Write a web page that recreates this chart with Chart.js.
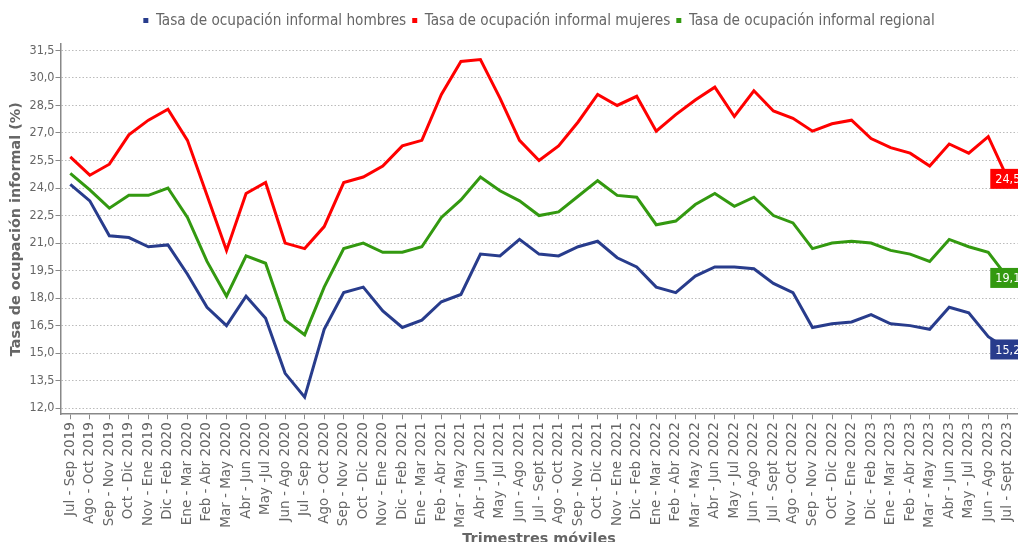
<!DOCTYPE html>
<html>
<head>
<meta charset="utf-8">
<script src="https://cdn.jsdelivr.net/npm/chart.js@4.4.1/dist/chart.umd.min.js"></script>
<style>
    html, body { margin: 0; padding: 0; background: #fff; overflow: hidden; }
    #wrap { width: 1027px; height: 550px; }
</style>
</head>
<body>
<div id="wrap"><canvas id="chartMain"></canvas></div>
<script>
const periods = [
    'Jul - Sep 2019', 'Ago - Oct 2019', 'Sep - Nov 2019', 'Oct - Dic 2019', 'Nov - Ene 2019',
    'Dic - Feb 2020', 'Ene - Mar 2020', 'Feb - Abr 2020', 'Mar - May 2020', 'Abr - Jun 2020',
    'May -Jul 2020', 'Jun - Ago 2020', 'Jul - Sep 2020', 'Ago - Oct 2020', 'Sep - Nov 2020',
    'Oct - Dic 2020', 'Nov - Ene 2020', 'Dic - Feb 2021', 'Ene - Mar 2021', 'Feb - Abr 2021',
    'Mar - May 2021', 'Abr - Jun 2021', 'May - Jul 2021', 'Jun - Ago 2021', 'Jul - Sept 2021',
    'Ago - Oct 2021', 'Sep - Nov 2021', 'Oct - Dic 2021', 'Nov - Ene 2021', 'Dic - Feb 2022',
    'Ene - Mar 2022', 'Feb - Abr 2022', 'Mar - May 2022', 'Abr - Jun 2022', 'May - Jul 2022',
    'Jun - Ago 2022', 'Jul - Sept 2022', 'Ago - Oct 2022', 'Sep - Nov 2022', 'Oct - Dic 2022',
    'Nov - Ene 2022', 'Dic - Feb 2023', 'Ene - Mar 2023', 'Feb - Abr 2023', 'Mar - May 2023',
    'Abr - Jun 2023', 'May - Jul 2023', 'Jun - Ago 2023', 'Jul - Sept 2023'
];

const hombres = [
    24.2, 23.3, 21.4, 21.3, 20.8, 20.9, 19.3, 17.5, 16.5, 18.1,
    16.9, 13.9, 12.6, 16.3, 18.3, 18.6, 17.3, 16.4, 16.8, 17.8,
    18.2, 20.4, 20.3, 21.2, 20.4, 20.3, 20.8, 21.1, 20.2, 19.7,
    18.6, 18.3, 19.2, 19.7, 19.7, 19.6, 18.8, 18.3, 16.4, 16.6,
    16.7, 17.1, 16.6, 16.5, 16.3, 17.5, 17.2, 15.9, 15.2
];

const mujeres = [
    25.7, 24.7, 25.3, 26.9, 27.7, 28.3, 26.6, 23.6, 20.6, 23.7,
    24.3, 21.0, 20.7, 21.9, 24.3, 24.6, 25.2, 26.3, 26.6, 29.1,
    30.9, 31.0, 28.9, 26.6, 25.5, 26.3, 27.6, 29.1, 28.5, 29.0,
    27.1, 28.0, 28.8, 29.5, 27.9, 29.3, 28.2, 27.8, 27.1, 27.5,
    27.7, 26.7, 26.2, 25.9, 25.2, 26.4, 25.9, 26.8, 24.5
];

const regional = [
    24.8, 23.9, 22.9, 23.6, 23.6, 24.0, 22.4, 20.0, 18.1, 20.3,
    19.9, 16.8, 16.0, 18.6, 20.7, 21.0, 20.5, 20.5, 20.8, 22.4,
    23.35, 24.6, 23.85, 23.3, 22.5, 22.7, 23.55, 24.4, 23.6, 23.5,
    22.0, 22.2, 23.1, 23.7, 23.0, 23.5, 22.5, 22.1, 20.7, 21.0,
    21.1, 21.0, 20.6, 20.4, 20.0, 21.2, 20.8, 20.5, 19.1
];

const yTicks = [12.0, 13.5, 15.0, 16.5, 18.0, 19.5, 21.0, 22.5, 24.0, 25.5, 27.0, 28.5, 30.0, 31.5];

const fmt = v => v.toFixed(1).replace('.', ',');
const condensed = '"DejaVu Sans Condensed", "DejaVu Sans", sans-serif';
const dejavu = '"DejaVu Sans", sans-serif';

// etiqueta con el ultimo valor de cada serie
const endLabels = {
    id: 'endLabels',
    afterDatasetsDraw(chart) {
        const ctx = chart.ctx;
        chart.data.datasets.forEach((ds, i) => {
            const meta = chart.getDatasetMeta(i);
            const pt = meta.data[meta.data.length - 1];
            const txt = fmt(ds.data[ds.data.length - 1]);
            ctx.save();
            ctx.font = '12.5px ' + condensed;
            const w = ctx.measureText(txt).width + 10;
            ctx.fillStyle = ds.borderColor;
            ctx.fillRect(pt.x - w / 2, pt.y - 10, w, 20);
            ctx.fillStyle = '#fff';
            ctx.textAlign = 'center';
            ctx.textBaseline = 'middle';
            ctx.fillText(txt, pt.x, pt.y + 1);
            ctx.restore();
        });
    }
};

// leyenda centrada sobre el area del grafico y con mas margen abajo
const legendSpace = {
    id: 'legendSpace',
    beforeInit(chart) {
        const fit = chart.legend.fit;
        chart.legend.fit = function () {
            fit.bind(chart.legend)();
            this.height += 6;
        };
    },
    afterLayout(chart) {
        chart.legend.left = chart.chartArea.left;
        chart.legend.right = chart.chartArea.right;
    }
};

new Chart(document.getElementById('chartMain'), {
    type: 'line',
    data: {
        labels: periods,
        datasets: [
            { label: 'Tasa de ocupación informal hombres', data: hombres, borderColor: '#283c8c', backgroundColor: '#283c8c' },
            { label: 'Tasa de ocupación informal mujeres', data: mujeres, borderColor: '#ff0000', backgroundColor: '#ff0000' },
            { label: 'Tasa de ocupación informal regional', data: regional, borderColor: '#339910', backgroundColor: '#339910' }
        ]
    },
    options: {
        responsive: true, maintainAspectRatio: false, animation: false,
        layout: { padding: { top: 7, left: 3.6, right: 0, bottom: 0 } },
        elements: {
            line: { borderWidth: 3, tension: 0 },
            point: { radius: 0 }
        },
        plugins: {
            legend: {
                position: 'top', align: 'center',
                labels: {
                    boxWidth: 5, boxHeight: 5, padding: 6,
                    color: '#666', font: { size: 15.2, family: condensed },
                    generateLabels: chart => Chart.defaults.plugins.legend.labels.generateLabels(chart)
                        .map(item => ({ ...item, lineWidth: 0 }))
                }
            },
            tooltip: { enabled: false }
        },
        scales: {
            x: {
                offset: true,
                grid: { drawOnChartArea: false, tickLength: 5, tickColor: '#888' },
                border: { color: '#888', width: 1.5 },
                ticks: {
                    autoSkip: false, maxRotation: 90, minRotation: 90, padding: 3,
                    color: '#666', font: { size: 13.5, family: dejavu }
                },
                title: {
                    display: true, text: 'Trimestres móviles', color: '#666',
                    padding: { top: 0, bottom: 2 },
                    font: { size: 14.4, weight: 'bold', family: dejavu }
                }
            },
            y: {
                min: 11.67, max: 31.84,
                afterBuildTicks: axis => { axis.ticks = yTicks.map(v => ({ value: v })); },
                grid: { color: '#bbb', tickColor: '#888', tickLength: 5 },
                border: { color: '#888', width: 1.5, dash: [1.5, 2] },
                ticks: {
                    padding: 1, color: '#666',
                    font: { size: 12.5, family: condensed },
                    callback: v => fmt(v)
                },
                title: {
                    display: true, text: 'Tasa de ocupación informal (%)', color: '#666',
                    padding: { top: 4, bottom: 3.6 },
                    font: { size: 14.4, weight: 'bold', family: dejavu }
                }
            }
        }
    },
    plugins: [endLabels, legendSpace]
});
</script>
</body>
</html>
